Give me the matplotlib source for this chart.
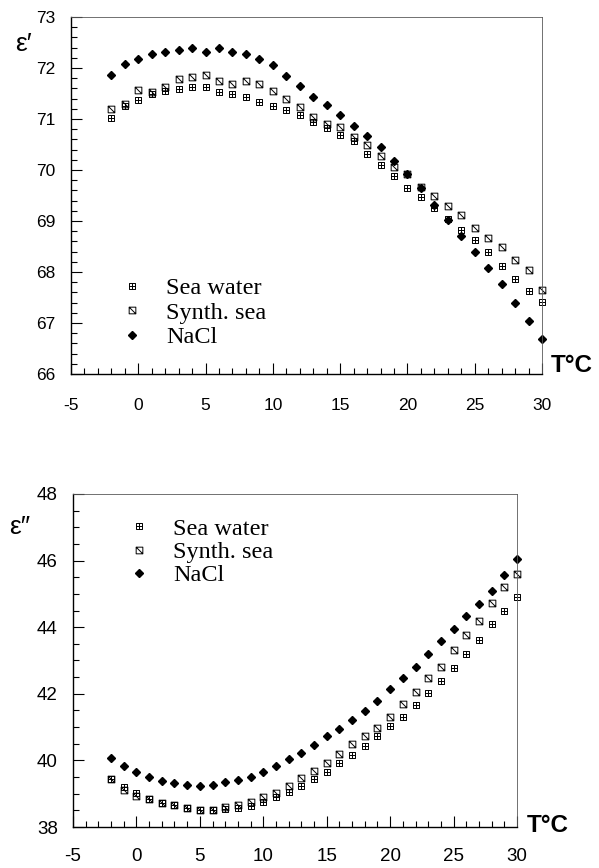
import numpy as np
import matplotlib.pyplot as plt
from matplotlib.path import Path
from matplotlib.ticker import MultipleLocator

plt.rcParams["axes.unicode_minus"] = False

# temperature (deg C)
temps = list(range(-2, 31))

# real part eps'
eps1_sea = [71.01, 71.25, 71.37, 71.50, 71.55, 71.59, 71.63, 71.62, 71.52, 71.50, 71.43,
            71.34, 71.25, 71.18, 71.08, 70.95, 70.82, 70.69, 70.56, 70.31, 70.10, 69.88,
            69.65, 69.48, 69.25, 69.03, 68.82, 68.63, 68.40, 68.12, 67.86, 67.63, 67.41]
eps1_synth = [71.19, 71.30, 71.57, 71.53, 71.62, 71.78, 71.83, 71.86, 71.75, 71.68, 71.75,
              71.68, 71.54, 71.39, 71.24, 71.03, 70.90, 70.84, 70.65, 70.49, 70.28, 70.05,
              69.92, 69.67, 69.50, 69.29, 69.12, 68.87, 68.67, 68.50, 68.24, 68.04, 67.65]
eps1_nacl = [71.87, 72.07, 72.17, 72.27, 72.32, 72.35, 72.39, 72.32, 72.40, 72.31, 72.27,
             72.17, 72.05, 71.84, 71.65, 71.44, 71.28, 71.07, 70.86, 70.66, 70.45, 70.18,
             69.92, 69.64, 69.31, 69.02, 68.71, 68.39, 68.07, 67.76, 67.39, 67.03, 66.69]

# imaginary part eps''
eps2_sea = [39.45, 39.20, 39.03, 38.83, 38.73, 38.65, 38.56, 38.50, 38.50, 38.55, 38.56,
            38.64, 38.74, 38.89, 39.06, 39.24, 39.43, 39.66, 39.93, 40.16, 40.44, 40.73,
            41.03, 41.31, 41.66, 42.01, 42.39, 42.78, 43.19, 43.62, 44.09, 44.50, 44.92]
eps2_synth = [39.45, 39.11, 38.93, 38.83, 38.73, 38.65, 38.56, 38.51, 38.51, 38.59, 38.67,
              38.76, 38.89, 39.01, 39.23, 39.46, 39.68, 39.93, 40.18, 40.48, 40.73, 40.98,
              41.29, 41.68, 42.04, 42.46, 42.81, 43.32, 43.77, 44.19, 44.72, 45.22, 45.59]
eps2_nacl = [40.07, 39.83, 39.64, 39.51, 39.38, 39.31, 39.26, 39.23, 39.26, 39.34, 39.40,
             39.51, 39.64, 39.84, 40.03, 40.22, 40.46, 40.73, 40.94, 41.21, 41.49, 41.79,
             42.13, 42.46, 42.79, 43.19, 43.58, 43.95, 44.35, 44.69, 45.10, 45.57, 46.04]

labels = ["Sea water", "Synth. sea", "NaCl"]

# square with a cross inside / square with a diagonal
M, L, C = Path.MOVETO, Path.LINETO, Path.CLOSEPOLY
sq = [(-1, -1), (1, -1), (1, 1), (-1, 1), (-1, -1)]
sq_codes = [M, L, L, L, C]
cross_marker = Path(sq + [(0, -1), (0, 1), (-1, 0), (1, 0)], sq_codes + [M, L, M, L])
diag_marker = Path(sq + [(-1, 1), (1, -1)], sq_codes + [M, L])

SANS = ["Liberation Sans", "DejaVu Sans"]
SERIF = ["Liberation Serif", "DejaVu Serif"]

fig = plt.figure(figsize=(5.99, 8.68), dpi=100)
ax1 = fig.add_axes([71/599, 1-374/868, 471/599, 357/868])
ax2 = fig.add_axes([73/599, 1-827/868, 444/599, 333/868])


def draw(ax, sea, synth, nacl, ylim, ymajor, yminor, tfs, xpad, leg_anchor, spacing):
    ax.plot(temps, sea, ls="none", marker=cross_marker, ms=4.8, mfc="none", mec="k", mew=0.7,
            label=labels[0], clip_on=False)
    ax.plot(temps, synth, ls="none", marker=diag_marker, ms=4.8, mfc="none", mec="k", mew=0.7,
            label=labels[1], clip_on=False)
    ax.plot(temps, nacl, ls="none", marker="D", ms=3.7, color="k", label=labels[2], clip_on=False)

    ax.set_xlim(-5, 30)
    ax.set_ylim(*ylim)
    ax.xaxis.set_major_locator(MultipleLocator(5))
    ax.xaxis.set_minor_locator(MultipleLocator(1))
    ax.yaxis.set_major_locator(MultipleLocator(ymajor))
    ax.yaxis.set_minor_locator(MultipleLocator(yminor))
    ax.tick_params(which="both", direction="in", top=False, right=False, width=0.8)
    ax.tick_params(which="major", length=8)
    ax.tick_params(which="minor", length=4)
    ax.tick_params(axis="x", pad=xpad)
    ax.tick_params(axis="y", pad=11)
    for t in ax.get_xticklabels() + ax.get_yticklabels():
        t.set_family(SANS)
        t.set_fontsize(tfs)
    for s in ["top", "right"]:
        ax.spines[s].set_linewidth(0.6)
        ax.spines[s].set_color("0.35")
    for s in ["left", "bottom"]:
        ax.spines[s].set_linewidth(1.0)

    ax.legend(loc="upper left", bbox_to_anchor=leg_anchor, frameon=False, borderpad=0,
              handlelength=0.8, handletextpad=1.0, labelspacing=spacing,
              prop={"family": SERIF, "size": 17.5})


draw(ax1, eps1_sea, eps1_synth, eps1_nacl, (66, 73), 1, 0.2, 12.5, 17, (0.084, 0.305), 0.1)
draw(ax2, eps2_sea, eps2_synth, eps2_nacl, (38, 48), 2, 0.5, 13.5, 15, (0.099, 0.965), 0.05)

fig.text(24/599, 1-44/868, "ε′", family=SANS, fontsize=19, ha="center", va="center")
fig.text(20/599, 1-527/868, "ε″", family=SANS, fontsize=19, ha="center", va="center")
fig.text(551/599, 1-366/868, "T°C", family=SANS, fontsize=17.5, fontweight="bold",
         ha="left", va="center")
fig.text(527/599, 1-825/868, "T°C", family=SANS, fontsize=17.5, fontweight="bold",
         ha="left", va="center")

plt.savefig("out.png", dpi=100)
